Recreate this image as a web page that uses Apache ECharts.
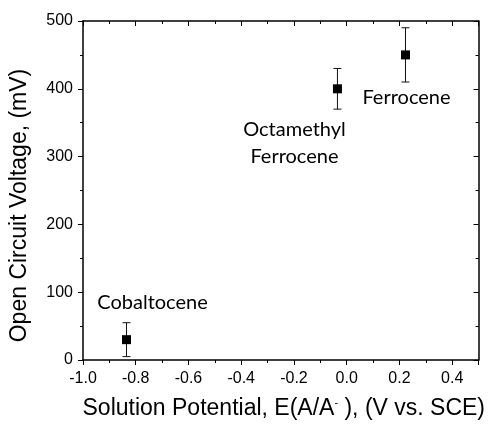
<!DOCTYPE html>
<html><head><meta charset="utf-8">
<script src="https://cdn.jsdelivr.net/npm/echarts@6/dist/echarts.min.js"></script>
<style>html,body{margin:0;padding:0;background:#fff}#c{width:488px;height:425px}</style>
</head><body><div id="c"></div>
<script>
// Data
const names = ['Cobaltocene', 'Octamethyl\nFerrocene', 'Ferrocene'];
const potentials = [-0.835, -0.035, 0.223];
const voltages = [30, 400, 450];
const errors = [25, 30, 40];
const xTicks = [-1.0, -0.8, -0.6, -0.4, -0.2, 0.0, 0.2, 0.4];
const yTicks = [0, 100, 200, 300, 400, 500];

// Styling (label offsets relative to points)
const labelOffsets = [[26, -37], [-43, 54], [1, 43]];

const chart = echarts.init(document.getElementById('c'));
const tickFont = {fontFamily: 'Liberation Sans', fontSize: 16, color: '#000'};
const baseX = {
  type: 'value', min: -1.0, max: 0.5, interval: 0.2,
  axisLine: {show: true, onZero: false, lineStyle: {color: '#000', width: 1.5}},
  splitLine: {show: false},
  minorTick: {show: true, splitNumber: 2, length: 3, lineStyle: {color: '#000', width: 1}},
  axisTick: {show: true, length: 5, lineStyle: {color: '#000', width: 1}}
};
const baseY = {
  type: 'value', min: 0, max: 500, interval: 100,
  axisLine: {show: true, onZero: false, lineStyle: {color: '#000', width: 1.5}},
  splitLine: {show: false},
  minorTick: {show: true, splitNumber: 2, length: 3, lineStyle: {color: '#000', width: 1}},
  axisTick: {show: true, length: 5, lineStyle: {color: '#000', width: 1}}
};

const option = {
  animation: false,
  grid: {left: 83, top: 21, right: 8, bottom: 64},
  xAxis: [
    Object.assign({}, baseX, {
      position: 'bottom',
      axisLabel: Object.assign({}, tickFont, {margin: 11, showMaxLabel: false,
        formatter: v => xTicks.some(t => Math.abs(t - v) < 1e-9) ? v.toFixed(1) : ''}),
      name: 'Solution Potential, E(A/A{sup|-} ), (V vs. SCE)',
      nameLocation: 'middle', nameGap: 37,
      nameTextStyle: {fontFamily: 'Liberation Sans', fontSize: 23, color: '#000', padding: [0, 0, 0, 6],
        rich: {sup: {fontFamily: 'Liberation Sans', fontSize: 11, color: '#000', padding: [0, 0, 12, 0]}}}
    }),
    Object.assign({}, baseX, {
      position: 'top', axisLabel: {show: false},
      axisTick: {show: true, inside: true, length: 5, lineStyle: {color: '#000', width: 1}},
      minorTick: {show: true, splitNumber: 2, length: 3, lineStyle: {color: '#000', width: 1}}
    })
  ],
  yAxis: [
    Object.assign({}, baseY, {
      position: 'left',
      axisLabel: Object.assign({}, tickFont, {margin: 10,
        formatter: v => yTicks.includes(v) ? String(v) : ''}),
      name: 'Open Circuit Voltage, (mV)',
      nameLocation: 'middle', nameGap: 52,
      nameTextStyle: {fontFamily: 'Liberation Sans', fontSize: 23, color: '#000', padding: [0, 30, 0, 0]}
    }),
    Object.assign({}, baseY, {
      position: 'right', axisLabel: {show: false},
      axisTick: {show: true, inside: true, length: 5, lineStyle: {color: '#000', width: 1}}
    })
  ],
  series: [
    {
      type: 'custom',
      xAxisIndex: 0, yAxisIndex: 0,
      data: potentials.map((x, i) => [x, voltages[i] - errors[i], voltages[i] + errors[i]]),
      renderItem: function (params, api) {
        const lo = api.coord([api.value(0), api.value(1)]);
        const hi = api.coord([api.value(0), api.value(2)]);
        const w = 4;
        const st = {stroke: '#111', lineWidth: 1};
        return {type: 'group', children: [
          {type: 'line', shape: {x1: lo[0], y1: lo[1], x2: hi[0], y2: hi[1]}, style: st},
          {type: 'line', shape: {x1: lo[0] - w, y1: lo[1], x2: lo[0] + w, y2: lo[1]}, style: st},
          {type: 'line', shape: {x1: hi[0] - w, y1: hi[1], x2: hi[0] + w, y2: hi[1]}, style: st}
        ]};
      },
      z: 2
    },
    {
      type: 'scatter',
      xAxisIndex: 0, yAxisIndex: 0,
      symbol: 'rect', symbolSize: 9,
      itemStyle: {color: '#000', opacity: 1},
      emphasis: {disabled: true},
      data: potentials.map((x, i) => ({
        value: [x, voltages[i]],
        label: {
          show: true, formatter: names[i], position: 'inside', offset: labelOffsets[i],
          fontFamily: 'Lato', fontSize: 20, color: '#000', lineHeight: 27, align: 'center',
          textBorderWidth: 0
        }
      })),
      z: 3
    }
  ]
};
chart.setOption(option);
</script>
</body></html>
